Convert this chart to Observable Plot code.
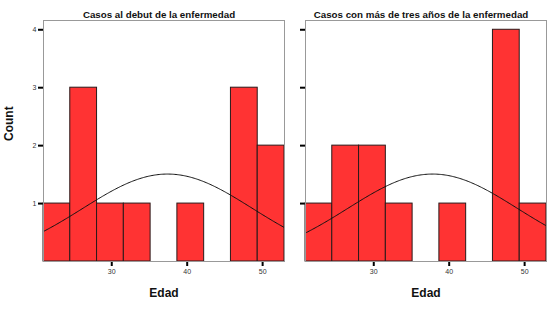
<!DOCTYPE html>
<html>
<head>
<meta charset="utf-8">
<script src="https://cdn.jsdelivr.net/npm/d3@7"></script>
<script src="https://cdn.jsdelivr.net/npm/@observablehq/plot@0.6"></script>
<style>
  html, body { margin: 0; padding: 0; background: #fff; }
  #wrap { position: relative; width: 548px; height: 319px; overflow: hidden; }
  #wrap svg { position: absolute; top: 0; }
  #wrap g[aria-label="y-axis tick"], #wrap g[aria-label="x-axis tick"] { stroke: #000; stroke-width: 2px; }
  #wrap g[aria-label="y-axis tick"] path, #wrap g[aria-label="x-axis tick"] path { stroke-width: 2px !important; }
</style>
</head>
<body>
<div id="wrap"></div>
<script>
// Age bins (years)
const binEdges = [20.95, 24.5, 28.05, 31.6, 35.15, 38.7, 42.25, 45.8, 49.35, 52.9];
// Counts per bin
const countsDebut = [1, 3, 1, 1, 0, 1, 0, 3, 2];
const countsTres  = [1, 2, 2, 1, 0, 1, 0, 4, 1];
const titles = ["Casos al debut de la enfermedad", "Casos con más de tres años de la enfermedad"];
const xTicks = [30, 40, 50];
const yTicks = [1, 2, 3, 4];
// Normal curve fit (mean, sd, n) per panel
const normalDebut = {mean: 37.4, sd: 11.26, n: 12};
const normalTres  = {mean: 37.8, sd: 11.26, n: 12};
const xLabel = "Edad";
const yLabel = "Count";

const binW = binEdges[1] - binEdges[0];

function bins(counts) {
  return counts.map((c, i) => ({x1: binEdges[i], x2: binEdges[i + 1], y: c}));
}
function curve(p) {
  const pts = [];
  const a = binEdges[0], b = binEdges[binEdges.length - 1];
  for (let i = 0; i <= 200; i++) {
    const x = a + (b - a) * i / 200;
    const z = (x - p.mean) / p.sd;
    pts.push({x, y: p.n * binW * Math.exp(-0.5 * z * z) / (p.sd * Math.sqrt(2 * Math.PI))});
  }
  return pts;
}

function panel(counts, norm, title, showYLabels, left, width, marginLeft) {
  const marks = [
    Plot.rectY(bins(counts).filter(d => d.y > 0), {x1: "x1", x2: "x2", y: "y", fill: "#ff3333", stroke: "#2a1a1a", strokeWidth: 1}),
    Plot.line(curve(norm), {x: "x", y: "y", stroke: "#111", strokeWidth: 1}),
    Plot.frame({stroke: "#999", strokeWidth: 1}),
    Plot.text([title], {frameAnchor: "top", dy: -3, dx: -5, fontSize: 9.75, fontWeight: "bold", fill: "#111", lineAnchor: "bottom"}),
    Plot.text([xLabel], {frameAnchor: "bottom", dy: 32, fontSize: 12, fontWeight: "bold", fill: "#111", lineAnchor: "middle"})
  ];
  if (showYLabels) {
    marks.push(Plot.text([yLabel], {frameAnchor: "left", dx: -34, rotate: -90, fontSize: 12, fontWeight: "bold", fill: "#111", lineAnchor: "middle"}));
  }
  const svg = Plot.plot({
    width: width,
    height: 319,
    marginLeft: marginLeft,
    marginRight: 6,
    marginTop: 20,
    marginBottom: 58,
    style: {fontFamily: "Liberation Sans, Arial, sans-serif", fontSize: "7px", color: "#333", background: "transparent", overflow: "visible"},
    x: {domain: [binEdges[0], binEdges[binEdges.length - 1]], ticks: xTicks, tickSize: 5, tickPadding: 3, label: null},
    y: {domain: [0, 4.16], ticks: yTicks, tickSize: 5, tickPadding: 2, label: null, tickFormat: showYLabels ? (d => d) : (() => "")},
    marks
  });
  svg.style.left = left + "px";
  return svg;
}

const wrap = document.getElementById("wrap");
wrap.appendChild(panel(countsDebut, normalDebut, titles[0], true, 0, 290, 43));
wrap.appendChild(panel(countsTres, normalTres, titles[1], false, 262, 290, 43));
</script>
</body>
</html>
